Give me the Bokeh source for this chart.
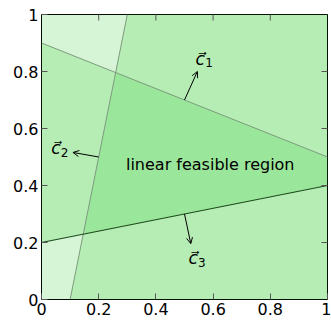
import math
from bokeh.plotting import figure
from bokeh.models import Range1d, LinearAxis, FixedTicker, Arrow, OpenHead, Label
from bokeh.embed import file_html
from bokeh.resources import INLINE

# constraint lines (endpoints)
line1_x = [0.0, 1.0]; line1_y = [0.9, 0.5]
line2_x = [0.1, 0.3]; line2_y = [0.0, 1.0]
line3_x = [0.0, 1.0]; line3_y = [0.2, 0.4]

# normal vectors: base and tip
c1_base = (0.5, 0.7); c1_tip = (0.545, 0.80)
c2_base = (0.2, 0.5); c2_tip = (0.11, 0.516)
c3_base = (0.5, 0.3); c3_tip = (0.522, 0.196)
vec_names = ["c\u20d7", "c\u20d7", "c\u20d7"]
vec_subs = ["1", "2", "3"]
vec_label_pos = [(0.555, 0.845), (0.05, 0.53), (0.53, 0.145)]
region_label = "linear feasible region"
region_pos = (0.59, 0.474)

ticks = [0, 0.2, 0.4, 0.6, 0.8, 1]
tick_labels = ["0", "0.2", "0.4", "0.6", "0.8", "1"]
xmin, xmax, ymin, ymax = 0, 1, 0, 1

FONT = "DejaVu Sans"

p = figure(width=331, height=322, output_backend="svg", toolbar_location=None,
           x_range=Range1d(xmin, xmax), y_range=Range1d(ymin, ymax),
           min_border_left=41, min_border_right=4, min_border_top=14, min_border_bottom=23,
           x_axis_location=None, y_axis_location=None)
p.grid.visible = False
p.outline_line_color = "black"
p.outline_line_width = 1
p.background_fill_color = "white"

fill = "#32cd32"
a = 0.2
# half-plane below line 1
p.patch([line1_x[0], line1_x[1], xmax, xmin], [line1_y[0], line1_y[1], ymin, ymin],
        fill_color=fill, fill_alpha=a, line_color=None)
# half-plane right of line 2
p.patch([line2_x[0], line2_x[1], xmax, xmax], [line2_y[0], line2_y[1], ymax, ymin],
        fill_color=fill, fill_alpha=a, line_color=None)
# half-plane above line 3
p.patch([line3_x[0], line3_x[1], xmax, xmin], [line3_y[0], line3_y[1], ymax, ymax],
        fill_color=fill, fill_alpha=a, line_color=None)

p.line(line1_x, line1_y, line_color="#7f9a7f", line_width=1)
p.line(line2_x, line2_y, line_color="#7f9a7f", line_width=1)
p.line(line3_x, line3_y, line_color="#1f4a1f", line_width=1.2)

for b, t in [(c1_base, c1_tip), (c2_base, c2_tip), (c3_base, c3_tip)]:
    p.add_layout(Arrow(end=OpenHead(size=6, line_width=1, line_color="black"),
                       x_start=b[0], y_start=b[1], x_end=t[0], y_end=t[1],
                       line_color="black", line_width=1))

for name, sub, (x, y) in zip(vec_names, vec_subs, vec_label_pos):
    p.add_layout(Label(x=x, y=y, text=name, text_font=FONT, text_font_size="17px",
                       text_font_style="italic", text_align="center", text_baseline="middle",
                       text_color="black"))
    p.add_layout(Label(x=x, y=y, text=sub, text_font=FONT, text_font_size="12px",
                       x_offset=5, y_offset=-4, text_align="left", text_baseline="middle",
                       text_color="black"))

p.add_layout(Label(x=region_pos[0], y=region_pos[1], text=region_label, text_font=FONT,
                   text_font_size="16px", text_align="center", text_baseline="middle",
                   text_color="black"))

# inward tick marks on top and right edges (clipped to frame)
inner = [t for t in ticks if xmin < t < xmax]
p.scatter(inner, [ymax] * len(inner), marker="dash", angle=math.pi / 2, size=12,
          line_color="#555555", line_width=1)
p.scatter([xmax] * len(inner), inner, marker="dash", size=12,
          line_color="#555555", line_width=1)

def mk_axis():
    ax = LinearAxis(ticker=FixedTicker(ticks=ticks), axis_line_color=None,
                    major_tick_in=6, major_tick_out=0, minor_tick_line_color=None,
                    major_tick_line_color="#555555",
                    major_label_text_font=FONT, major_label_text_font_size="16px",
                    major_label_text_color="black", major_label_standoff=3)
    ax.major_label_overrides = {t: l for t, l in zip(ticks, tick_labels)}
    return ax

p.add_layout(mk_axis(), "below")
p.add_layout(mk_axis(), "left")

open("out.html", "w").write(file_html(p, INLINE))
